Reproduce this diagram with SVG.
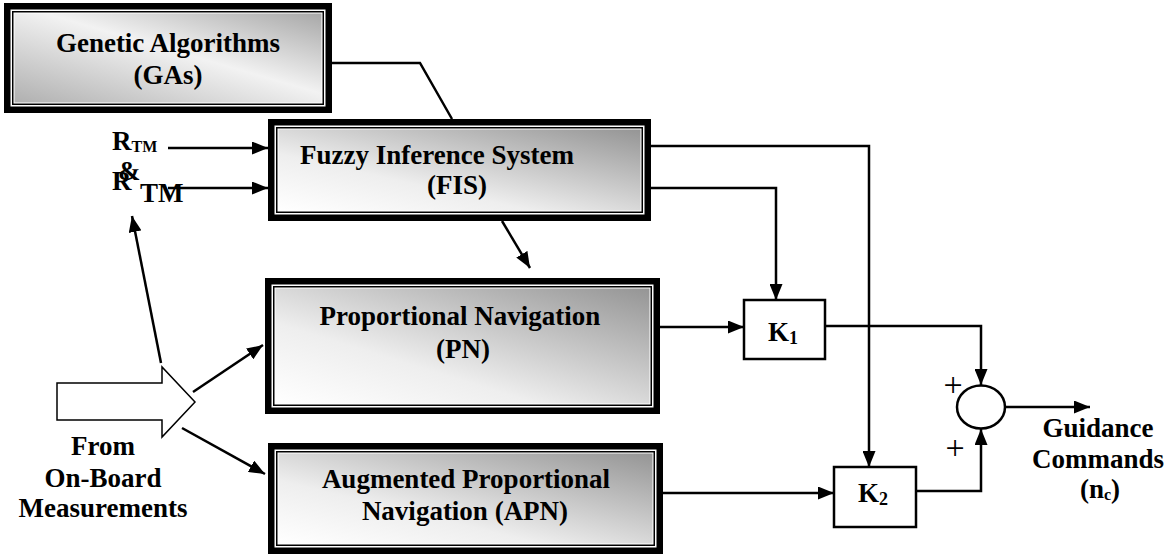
<svg xmlns="http://www.w3.org/2000/svg" width="1175" height="556" viewBox="0 0 1175 556">
<style>
.t{font-family:"Liberation Serif","Times New Roman",serif;font-weight:bold;font-size:27px;fill:#000}
.c{text-anchor:middle}
.ln{fill:none;stroke:#000;stroke-width:2.5}
.ar{fill:none;stroke:#000;stroke-width:2.5;marker-end:url(#ah)}
.kb{fill:#fff;stroke:#000;stroke-width:2.5}
.thin{fill:none;stroke:#000;stroke-width:1.5}
.plus{font-family:"Liberation Serif","Times New Roman",serif;font-size:34px;fill:#000;text-anchor:middle}
</style>
<defs>
<marker id="ah" markerWidth="16" markerHeight="13" refX="16" refY="6.5" orient="auto" markerUnits="userSpaceOnUse">
<path d="M0,0 L16,6.5 L0,13 z" fill="#000"/>
</marker>
<linearGradient id="gGA" x1="0" y1="1" x2="1" y2="0">
<stop offset="0" stop-color="#b0b0b0"/>
<stop offset="0.55" stop-color="#f2f2f2"/>
<stop offset="1" stop-color="#a8a8a8"/>
</linearGradient>
<linearGradient id="gD" x1="0" y1="1" x2="1" y2="0">
<stop offset="0" stop-color="#ffffff"/>
<stop offset="0.35" stop-color="#eeeeee"/>
<stop offset="1" stop-color="#959595"/>
</linearGradient>
</defs>

<g id="connectors">
<polyline class="ln" points="332,63 420,63 452,119"/>
<line class="ar" x1="168" y1="148" x2="268" y2="148"/>
<line class="ar" x1="168" y1="188" x2="268" y2="188"/>
<line class="ar" x1="161" y1="363" x2="132" y2="216"/>
<line class="ar" x1="193" y1="392" x2="263" y2="345"/>
<line class="ar" x1="182" y1="428" x2="265" y2="474"/>
<line class="ar" x1="502" y1="221" x2="530" y2="268"/>
<polyline class="ar" points="651,146 869,146 869,467"/>
<polyline class="ar" points="651,188 776,188 776,300"/>
<line class="ar" x1="660" y1="327" x2="744" y2="327"/>
<polyline class="ar" points="825,326 981,326 981,385"/>
<line class="ar" x1="663" y1="493" x2="834" y2="493"/>
<polyline class="ar" points="916,491 981,491 981,429"/>
<line class="ar" x1="1005" y1="407" x2="1090" y2="407"/>
</g>

<g id="ga">
<rect x="4" y="3" width="328" height="110" fill="#000"/>
<rect x="10.5" y="9.5" width="315" height="97" fill="#fff"/>
<rect x="12.75" y="11.75" width="310.5" height="92.5" class="thin"/>
<rect x="14.5" y="13.5" width="307" height="89" fill="url(#gGA)"/>
<text class="t c" x="168" y="52">Genetic Algorithms</text>
<text class="t c" x="168" y="84">(GAs)</text>
</g>

<g id="fis">
<rect x="268" y="119" width="383" height="102" fill="#000"/>
<rect x="274.5" y="125.5" width="370" height="89" fill="#fff"/>
<rect x="276.75" y="127.75" width="365.5" height="84.5" class="thin"/>
<rect x="278.5" y="129.5" width="362" height="81" fill="url(#gD)"/>
<text class="t c" x="437" y="164">Fuzzy Inference System</text>
<text class="t c" x="457" y="194">(FIS)</text>
</g>

<g id="pn">
<rect x="265" y="278" width="395" height="136" fill="#000"/>
<rect x="271.5" y="284.5" width="382" height="123" fill="#fff"/>
<rect x="273.75" y="286.75" width="377.5" height="118.5" class="thin"/>
<rect x="275.5" y="288.5" width="374" height="115" fill="url(#gD)"/>
<text class="t c" x="460" y="325">Proportional Navigation</text>
<text class="t c" x="463" y="358">(PN)</text>
</g>

<g id="apn">
<rect x="268" y="443" width="395" height="111" fill="#000"/>
<rect x="274.5" y="449.5" width="382" height="98" fill="#fff"/>
<rect x="276.75" y="451.75" width="377.5" height="93.5" class="thin"/>
<rect x="278.5" y="453.5" width="374" height="90" fill="url(#gD)"/>
<text class="t c" x="466" y="488">Augmented Proportional</text>
<text class="t c" x="465" y="520">Navigation (APN)</text>
</g>

<g id="k1">
<rect class="kb" x="744" y="300" width="81" height="59"/>
<text class="t" x="768" y="341" font-size="28">K<tspan font-size="18" dy="3">1</tspan></text>
</g>

<g id="k2">
<rect class="kb" x="834" y="467" width="82" height="60"/>
<text class="t" x="858" y="502" font-size="28">K<tspan font-size="18" dy="3">2</tspan></text>
</g>

<g id="sum">
<ellipse cx="981" cy="407" rx="24" ry="21.5" fill="#fff" stroke="#000" stroke-width="2.5"/>
<text class="plus" x="953" y="396">+</text>
<text class="plus" x="955" y="459">+</text>
</g>

<g id="source">
<polygon points="57,383 162,383 162,367 195,402 162,437 162,420 57,420" fill="#fff" stroke="#000" stroke-width="1.5"/>
<text class="t c" x="103" y="455">From</text>
<text class="t c" x="103" y="487">On-Board</text>
<text class="t c" x="103" y="517">Measurements</text>
</g>

<g id="inputs">
<text class="t" x="112" y="150">R<tspan font-size="16" dy="2">TM</tspan></text>
<text class="t" x="112" y="190">R</text>
<text class="t" x="118" y="180" font-size="16">&amp;</text>
<text class="t" x="140" y="202" font-size="19">TM</text>
</g>

<g id="output">
<text class="t c" x="1098" y="437">Guidance</text>
<text class="t c" x="1098" y="468">Commands</text>
<text class="t c" x="1100" y="498">(n<tspan font-size="16" dy="2">c</tspan><tspan dy="-2">)</tspan></text>
</g>
</svg>
